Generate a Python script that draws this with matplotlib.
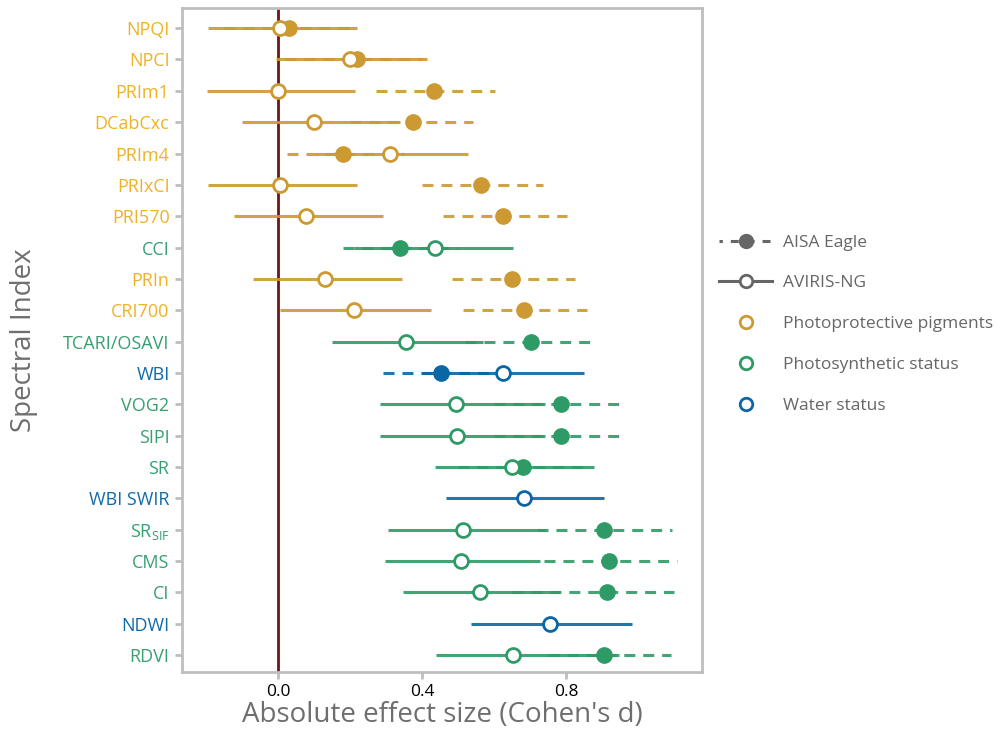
import numpy as np
import matplotlib
matplotlib.use("Agg")
from matplotlib import pyplot as plt
from matplotlib.lines import Line2D

plt.rcParams["font.family"] = ["Open Sans", "DejaVu Sans"]
plt.rcParams["mathtext.fontset"] = "custom"
plt.rcParams["mathtext.rm"] = "Open Sans"
plt.rcParams["mathtext.it"] = "Open Sans"

# spectral indices, top to bottom
indices = ["NPQI", "NPCI", "PRIm1", "DCabCxc", "PRIm4", "PRIxCI", "PRI570", "CCI",
           "PRIn", "CRI700", "TCARI/OSAVI", "WBI", "VOG2", "SIPI", "SR", "WBI SWIR",
           r"SR$_{\mathrm{SIF}}$", "CMS", "CI", "NDWI", "RDVI"]
groups = ["pig", "pig", "pig", "pig", "pig", "pig", "pig", "pho",
          "pig", "pig", "pho", "wat", "pho", "pho", "pho", "wat",
          "pho", "pho", "pho", "wat", "pho"]

# AVIRIS-NG (solid line, open circle)
aviris_d = [0.005, 0.200, 0.000, 0.100, 0.310, 0.005, 0.078, 0.436,
            0.130, 0.211, 0.356, 0.625, 0.494, 0.497, 0.650, 0.683,
            0.514, 0.508, 0.561, 0.756, 0.653]
aviris_lo = [-0.194, -0.005, -0.197, -0.100, 0.105, -0.194, -0.122, 0.210,
             -0.070, 0.005, 0.150, 0.400, 0.283, 0.283, 0.436, 0.467,
             0.306, 0.297, 0.347, 0.536, 0.439]
aviris_hi = [0.219, 0.414, 0.214, 0.339, 0.528, 0.219, 0.292, 0.653,
             0.344, 0.425, 0.569, 0.850, 0.742, 0.742, 0.878, 0.906,
             0.742, 0.728, 0.780, 0.983, 0.947]

# AISA Eagle (dashed line, filled circle); nan = not available
aisa_d = [0.030, 0.220, 0.433, 0.375, 0.180, 0.565, 0.625, 0.340,
          0.650, 0.683, 0.703, 0.453, 0.786, 0.786, 0.681, np.nan,
          0.906, 0.919, 0.914, np.nan, 0.906]
aisa_lo = [-0.150, 0.020, 0.272, 0.200, 0.025, 0.400, 0.458, 0.180,
           0.483, 0.514, 0.520, 0.292, 0.600, 0.600, 0.500, np.nan,
           0.720, 0.740, 0.650, np.nan, 0.750]
aisa_hi = [0.200, 0.400, 0.603, 0.542, 0.350, 0.736, 0.803, 0.500,
           0.825, 0.858, 0.881, 0.620, 0.964, 0.964, 0.860, np.nan,
           1.094, 1.108, 1.100, np.nan, 1.092]

group_names = {"pig": "Photoprotective pigments", "pho": "Photosynthetic status", "wat": "Water status"}
mark_col = {"pig": "#CC9933", "pho": "#2E9B67", "wat": "#0A67A3"}
label_col = {"pig": "#F0B225", "pho": "#37A070", "wat": "#0F6BA8"}

fig = plt.figure(figsize=(10, 7.32), dpi=100)
ax = fig.add_axes([0.182, 0.082, 0.52, 0.907])

ax.axvline(0, color="#6E1414", lw=2.0, zorder=1)

lw = 2.2
for i in range(len(indices)):
    c = mark_col[groups[i]]
    if not np.isnan(aisa_d[i]):
        ax.plot([aisa_lo[i], aisa_hi[i]], [i, i], color=c, lw=lw,
                linestyle=(0, (3.6, 2.6)), alpha=0.9, zorder=2, solid_capstyle="butt")
    ax.plot([aviris_lo[i], aviris_hi[i]], [i, i], color=c, lw=lw, alpha=0.9, zorder=3,
            solid_capstyle="butt")
    if not np.isnan(aisa_d[i]):
        ax.plot(aisa_d[i], i, "o", color=c, ms=11, zorder=4)
    ax.plot(aviris_d[i], i, "o", mfc="white", mec=c, mew=2.0, ms=10, zorder=5)

ax.set_xlim(-0.267, 1.178)
ax.set_ylim(len(indices) - 1 + 0.54, -0.64)
ax.set_xticks([0.0, 0.4, 0.8])
ax.set_xticklabels(["0.0", "0.4", "0.8"], fontsize=12.5, color="black")
ax.set_yticks(range(len(indices)))
ax.set_yticklabels(indices, fontsize=13)
for lab, g in zip(ax.get_yticklabels(), groups):
    lab.set_color(label_col[g])
ax.tick_params(axis="both", color="#BEBEBE", width=2, length=5)
ax.tick_params(axis="y", pad=4)
for s in ax.spines.values():
    s.set_color("#BEBEBE")
    s.set_linewidth(2)

ax.set_xlabel("Absolute effect size (Cohen's d)", fontsize=20, color="#6E6E6E", labelpad=1)
ax.set_ylabel("Spectral Index", fontsize=20, color="#6E6E6E", labelpad=18)

grey = "#666666"
handles = [
    Line2D([], [], color=grey, lw=lw, linestyle=(1.5, (2.6, 2.6)), marker="o", ms=10),
    Line2D([], [], color=grey, lw=lw, marker="o", mfc="white", mec=grey, mew=2, ms=9),
]
for g in ["pig", "pho", "wat"]:
    handles.append(Line2D([], [], linestyle="none", marker="o", mfc="white",
                          mec=mark_col[g], mew=2, ms=9))
labels = ["AISA Eagle", "AVIRIS-NG"] + [group_names[g] for g in ["pig", "pho", "wat"]]
leg = fig.legend(handles, labels, loc="upper left", bbox_to_anchor=(0.703, 0.701),
                 frameon=False, fontsize=12.5, handlelength=3.1, labelspacing=1.42,
                 handletextpad=0.6)
for t in leg.get_texts():
    t.set_color("#666666")

fig.savefig("out.png", dpi=100)
